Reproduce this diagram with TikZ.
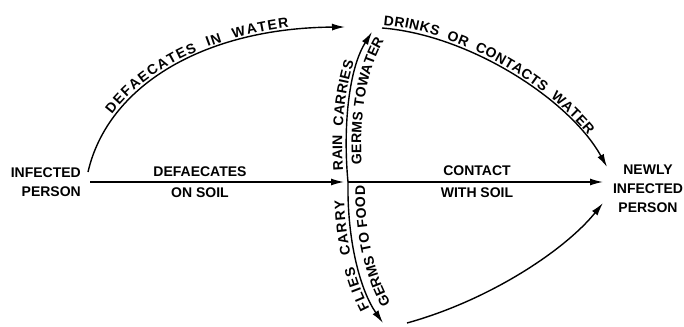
\documentclass[tikz,border=0pt]{standalone}
\usepackage{fontspec}
\newfontfamily\lblfont{Liberation Sans}
\newcommand\lblsz{\lblfont\bfseries\fontsize{14}{19}\selectfont}
\usetikzlibrary{arrows.meta,decorations.text}
\tikzset{
  flow/.style={line width=1.4pt,-{Latex[length=13pt,width=7pt]}},
  lbl/.style={font=\lblsz,inner sep=0pt,align=center},
  curvetext/.style n args={4}{decorate,decoration={text along path,
      text={|\lblsz|#1},text align={fit to path,left indent=#2,right indent=#3},raise=#4}},
}
\begin{document}
\begin{tikzpicture}[x=1pt,y=-1pt]
\useasboundingbox (0,0) rectangle (684,326);
% persons
\node[lbl,align=right,anchor=east] (inf) at (81,182.5) {INFECTED\\PERSON};
\node[lbl] (new) at (648,188.5) {NEWLY\\INFECTED\\PERSON};
% junction points
\coordinate (A0) at (88,172);
\coordinate (H0) at (90,182);
\coordinate (J) at (348,182);
\coordinate (W1) at (345,27);
\coordinate (W2) at (372,32);
\coordinate (W3) at (382,28);
\coordinate (F1) at (383,323);
\coordinate (F2) at (407,323);
\coordinate (N1) at (607,167);
\coordinate (N2) at (603,182);
\coordinate (N3) at (603,203);
% arrows
\draw[flow] (A0) .. controls (108,85) and (205,28) .. (W1);
\draw[flow,shorten >=4pt] (H0) -- (J);
\draw[flow] (J) .. controls (343,130) and (348,70) .. (W2);
\draw[flow] (J) .. controls (347,240) and (360,290) .. (F1);
\draw[flow] (W3) .. controls (470,35) and (570,100) .. (N1);
\draw[flow] (J) -- (N2);
\draw[flow] (F2) .. controls (490,300) and (565,250) .. (N3);
% straight labels
\node[lbl] (l1) at (200,172) {DEFAECATES};
\node[lbl] (l2) at (200,193) {ON SOIL};
\node[lbl] (l3) at (477,171) {CONTACT};
\node[lbl] (l4) at (477,193) {WITH SOIL};
% curved labels
\path[curvetext={DEFAECATES {\ }IN {\ }WATER}{62pt}{56pt}{3pt}] (A0) .. controls (108,85) and (205,28) .. (W1);
\path[curvetext={DRINKS {\ }OR {\ }CONTACTS {\ }WATER}{1pt}{37pt}{3pt}] (W3) .. controls (470,35) and (570,100) .. (N1);
\path[curvetext={RAIN {\ }CARRIES}{12pt}{34pt}{4pt}] (J) .. controls (343,130) and (348,70) .. (W2);
\path[curvetext={GERMS TOWATER}{17pt}{2pt}{-15pt}] (J) .. controls (343,130) and (348,70) .. (W2);
\path[curvetext={FLIES {\ }CARRY}{19pt}{18pt}{4pt}] (F1) .. controls (360,290) and (347,240) .. (J);
\path[curvetext={GERMS TO FOOD}{14pt}{4pt}{-17pt}] (F1) .. controls (360,290) and (347,240) .. (J);
\end{tikzpicture}
\end{document}
